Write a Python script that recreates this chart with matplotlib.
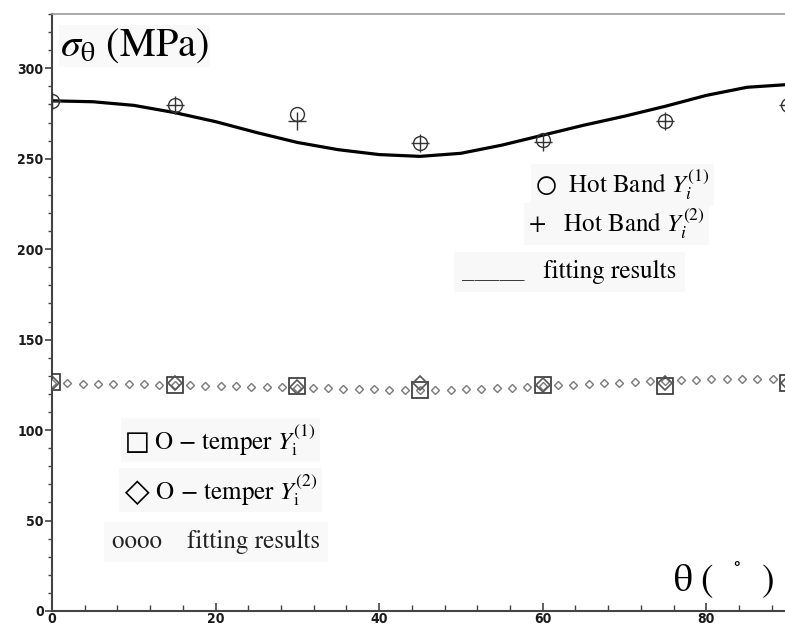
import matplotlib
matplotlib.use("Agg")
import matplotlib.pyplot as plt
from matplotlib.ticker import MultipleLocator

plt.rcParams['mathtext.fontset'] = 'stix'

# ---------------- data ----------------
theta_pts = [0, 15, 30, 45, 60, 75, 90]
hot_y1 = [282, 279.5, 275, 258.5, 260.5, 271, 279.5]
hot_y2 = [282, 279.5, 271, 258.5, 259, 271, 279.5]

theta_fit_hot = [0, 5, 10, 15, 20, 25, 30, 35, 40, 45, 50, 55, 60, 65, 70, 75, 80, 85, 90]
hot_fit = [282, 281.5, 279.5, 275.5, 270.5, 264.5, 259, 255, 252.3, 251.3, 253, 257.5,
           263, 268.5, 273.5, 279, 285, 289.5, 291]

otemp_y1 = [126.5, 125, 124.3, 122, 125, 124.3, 126]
otemp_y2 = [126, 126, 124, 126, 125, 126, 126]

theta_fit_o = [0, 1.875, 3.75, 5.625, 7.5, 9.375, 11.25, 13.125, 15, 16.875, 18.75,
               20.625, 22.5, 24.375, 26.25, 28.125, 30, 31.875, 33.75, 35.625, 37.5,
               39.375, 41.25, 43.125, 45, 46.875, 48.75, 50.625, 52.5, 54.375, 56.25,
               58.125, 60, 61.875, 63.75, 65.625, 67.5, 69.375, 71.25, 73.125, 75,
               76.875, 78.75, 80.625, 82.5, 84.375, 86.25, 88.125, 90]
otemp_fit = [125.8, 125.8, 125.7, 125.7, 125.6, 125.5, 125.4, 125.2, 125.0, 124.8, 124.6,
             124.4, 124.2, 124.0, 123.8, 123.6, 123.4, 123.2, 123.0, 122.8, 122.6,
             122.5, 122.4, 122.3, 122.3, 122.3, 122.4, 122.6, 122.8, 123.1, 123.5,
             123.9, 124.3, 124.7, 125.1, 125.5, 125.9, 126.3, 126.7, 127.0, 127.3,
             127.6, 127.9, 128.1, 128.3, 128.4, 128.5, 128.5, 128.5]

x_ticks = [0, 20, 40, 60, 80]
y_ticks = [0, 50, 100, 150, 200, 250, 300]

# ---------------- figure ----------------
W, H = 785, 628
fig = plt.figure(figsize=(W / 100, H / 100), dpi=100)
ax = fig.add_axes([52 / W, (H - 611) / H, (788 - 52) / W, (611 - 14) / H])
ax.set_xlim(0, 90)
ax.set_ylim(0, 330)

# fit curves
ax.plot(theta_fit_hot, hot_fit, color='black', lw=2.3, solid_capstyle='round', zorder=3)
ax.plot(theta_fit_o, otemp_fit, linestyle='none', marker='D', markersize=3.6,
        markerfacecolor='white', markeredgecolor='#7a7a7a', markeredgewidth=1.0, zorder=3)

# data markers
ax.plot(theta_pts, hot_y1, linestyle='none', marker='o', markersize=10,
        markerfacecolor='none', markeredgecolor='#333333', markeredgewidth=1.0, zorder=4)
ax.plot(theta_pts, hot_y2, linestyle='none', marker='+', markersize=13,
        markeredgecolor='#333333', markeredgewidth=1.0, zorder=4)
ax.plot(theta_pts, otemp_y1, linestyle='none', marker='s', markersize=11,
        markerfacecolor='none', markeredgecolor='#333333', markeredgewidth=1.2, zorder=4)
ax.plot(theta_pts, otemp_y2, linestyle='none', marker='D', markersize=7.5,
        markerfacecolor='none', markeredgecolor='#555555', markeredgewidth=1.2, zorder=4)

# axes styling
for s in ['left', 'bottom']:
    ax.spines[s].set_color('#444444')
    ax.spines[s].set_linewidth(1.5)
ax.spines['top'].set_color('#999999')
ax.spines['top'].set_linewidth(1.2)
ax.spines['right'].set_visible(False)

ax.set_xticks(x_ticks)
ax.set_yticks(y_ticks)
ax.xaxis.set_minor_locator(MultipleLocator(4))
ax.yaxis.set_minor_locator(MultipleLocator(10))
ax.tick_params(axis='x', which='major', direction='in', length=6, width=1.2, color='#444444', pad=1)
ax.tick_params(axis='x', which='minor', direction='in', length=4, width=1.0, color='#444444')
ax.tick_params(axis='y', which='major', direction='out', length=5, width=1.2, color='#444444', pad=1)
ax.tick_params(axis='y', which='minor', direction='out', length=3, width=1.0, color='#444444')
ax.tick_params(top=False, right=False)
for lab in ax.get_xticklabels() + ax.get_yticklabels():
    lab.set_fontweight('heavy')
    lab.set_fontsize(10)
    lab.set_fontstretch('condensed')
    lab.set_color('#1a1a1a')

# axis titles
fig.text(60 / W, 1 - 46 / H, r"$\sigma_{\mathrm{\theta}}$ (MPa)", fontsize=29,
         family='STIXGeneral', va='center', ha='left',
         bbox=dict(facecolor='#f9f9f9', edgecolor='none', pad=1))
fig.text(673 / W, 1 - 580 / H, r"θ (  $^{^{\circ}}$  )", fontsize=27,
         family='STIXGeneral', va='center', ha='left')

# legend texts (upper right)
fs = 18
box = dict(facecolor='#f8f8f8', edgecolor='none', pad=3)
fig.text(535 / W, 1 - 185 / H, "○  Hot Band $Y_i^{(1)}$", fontsize=fs,
         family='STIXGeneral', va='center', ha='left', bbox=box)
fig.text(528 / W, 1 - 224 / H, "+   Hot Band $Y_i^{(2)}$", fontsize=fs,
         family='STIXGeneral', va='center', ha='left', bbox=box)
fig.text(462 / W, 1 - 272 / H, "_____   fitting results", fontsize=fs,
         family='STIXGeneral', va='center', ha='left',
         bbox=dict(facecolor='#f8f8f8', edgecolor='none', pad=6))

# legend texts (lower left)
fig.text(125 / W, 1 - 440 / H, r"□ O − temper $Y_{\mathrm{i}}^{(1)}$", fontsize=fs,
         family='STIXGeneral', va='center', ha='left', bbox=box)
fig.text(123 / W, 1 - 490 / H, r"◇ O − temper $Y_{\mathrm{i}}^{(2)}$", fontsize=fs,
         family='STIXGeneral', va='center', ha='left', bbox=box)
fig.text(112 / W, 1 - 542 / H, "oooo    fitting results", fontsize=fs,
         family='STIXGeneral', va='center', ha='left', color='#222222',
         bbox=dict(facecolor='#f9f9f9', edgecolor='none', pad=6))

fig.savefig("out.png", dpi=100)
